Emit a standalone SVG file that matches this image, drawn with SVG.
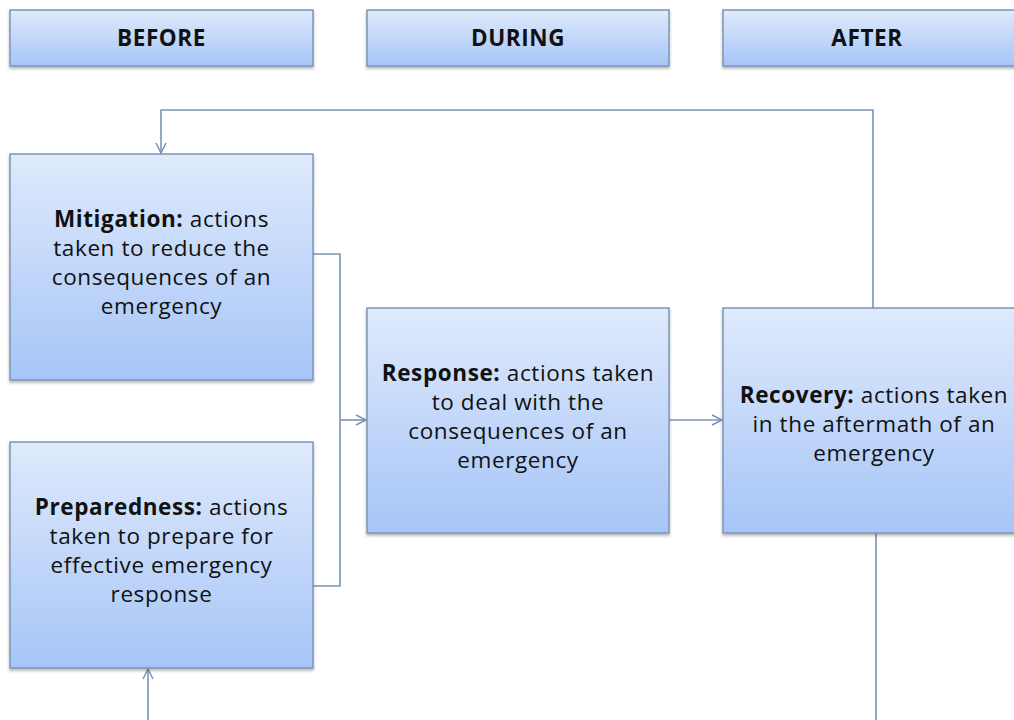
<svg xmlns="http://www.w3.org/2000/svg" width="1014" height="720" viewBox="0 0 1014 720">
<style>
.box{fill:url(#g);stroke:#7d95b6;stroke-width:1.5;filter:url(#sh)}
.t{font-family:"Open Sans","Liberation Sans",sans-serif;font-size:22.5px;fill:#111;text-anchor:middle;font-variant-ligatures:none;letter-spacing:0.6px}
.b{font-weight:bold}
.c{fill:none;stroke:#7a94b8;stroke-width:1.6}
</style>
<defs>
<linearGradient id="g" x1="0" y1="0" x2="0" y2="1">
<stop offset="0" stop-color="#dfeafc"/>
<stop offset="1" stop-color="#a6c5f7"/>
</linearGradient>
<filter id="sh" x="-5%" y="-5%" width="110%" height="115%">
<feDropShadow dx="0" dy="2" stdDeviation="1.5" flood-color="#000" flood-opacity="0.3"/>
</filter>
<marker id="a" markerWidth="14" markerHeight="14" refX="11" refY="6" orient="auto" markerUnits="userSpaceOnUse">
<path d="M1,1 L11,6 L1,11" fill="none" stroke="#7a94b8" stroke-width="1.5"/>
</marker>
</defs>
<g id="before"><rect class="box" x="10" y="10" width="303" height="56"/><text class="t b" x="161.5" y="46">BEFORE</text></g>
<g id="during"><rect class="box" x="367" y="10" width="302" height="56"/><text class="t b" x="518" y="46">DURING</text></g>
<g id="after"><rect class="box" x="723" y="10" width="300" height="56"/><text class="t b" x="867" y="46">AFTER</text></g>
<g id="connectors">
<path class="c" d="M873,308 V110 H161 V153" marker-end="url(#a)"/>
<path class="c" d="M313,254 H340 V586 H313"/>
<path class="c" d="M340,420 H366" marker-end="url(#a)"/>
<path class="c" d="M669,420 H722" marker-end="url(#a)"/>
<path class="c" d="M876,533 V720"/>
<path class="c" d="M148,720 V669" marker-end="url(#a)"/>
</g>
<g id="mitigation"><rect class="box" x="10" y="154" width="303" height="226"/>
<text class="t" x="161.5" y="227"><tspan class="b">Mitigation:</tspan> actions</text>
<text class="t" x="161.5" y="256">taken to reduce the</text>
<text class="t" x="161.5" y="285">consequences of an</text>
<text class="t" x="161.5" y="314">emergency</text></g>
<g id="preparedness"><rect class="box" x="10" y="442" width="303" height="226"/>
<text class="t" x="161.5" y="515"><tspan class="b">Preparedness:</tspan> actions</text>
<text class="t" x="161.5" y="544">taken to prepare for</text>
<text class="t" x="161.5" y="573">effective emergency</text>
<text class="t" x="161.5" y="602">response</text></g>
<g id="response"><rect class="box" x="367" y="308" width="302" height="225"/>
<text class="t" x="518" y="381"><tspan class="b">Response:</tspan> actions taken</text>
<text class="t" x="518" y="410">to deal with the</text>
<text class="t" x="518" y="439">consequences of an</text>
<text class="t" x="518" y="468">emergency</text></g>
<g id="recovery"><rect class="box" x="723" y="308" width="300" height="225"/>
<text class="t" x="874" y="403"><tspan class="b">Recovery:</tspan> actions taken</text>
<text class="t" x="874" y="432">in the aftermath of an</text>
<text class="t" x="874" y="461">emergency</text></g>
</svg>
